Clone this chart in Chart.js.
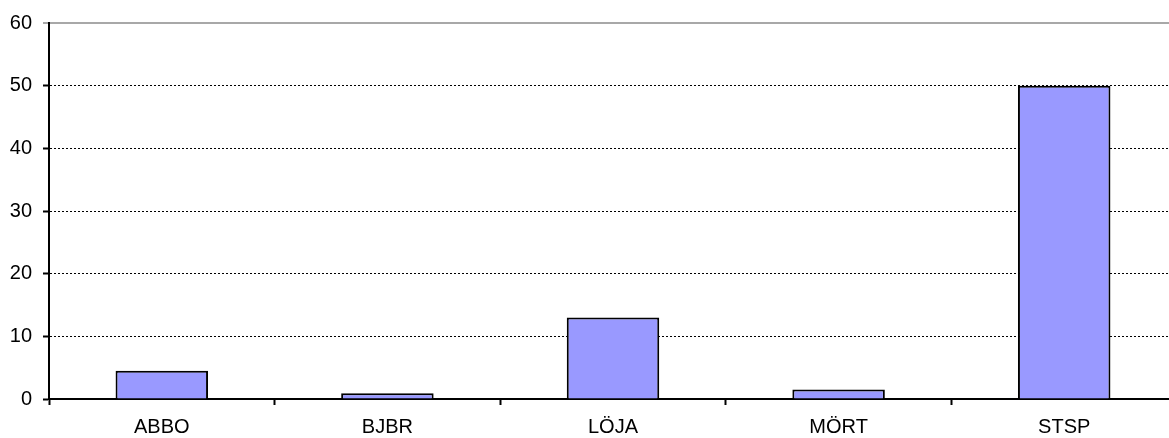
<!DOCTYPE html>
<html>
<head>
<meta charset="utf-8">
<script src="https://cdn.jsdelivr.net/npm/chart.js@4/dist/chart.umd.min.js"></script>
<style>
  html, body { margin: 0; padding: 0; background: #fff; overflow: hidden; }
  #wrap { width: 1180px; height: 438px; position: relative; }
</style>
</head>
<body>
<div id="wrap"><canvas id="c"></canvas></div>
<script>
// Catch per species code
const categories = ['ABBO', 'BJBR', 'LÖJA', 'MÖRT', 'STSP'];
const values = [4.5, 0.9, 13, 1.5, 50];
const yTicks = [0, 10, 20, 30, 40, 50, 60];

const yMax = yTicks[yTicks.length - 1];
const isTop = ctx => ctx.tick && ctx.tick.value === yMax;

Chart.defaults.font.family = "'Liberation Sans', Arial, sans-serif";
Chart.defaults.color = '#000';

new Chart(document.getElementById('c'), {
  type: 'bar',
  data: {
    labels: categories,
    datasets: [{
      data: values,
      backgroundColor: '#9999FF',
      borderColor: '#000',
      borderWidth: 2,
      barPercentage: 0.41,
      categoryPercentage: 1
    }]
  },
  options: {
    responsive: true,
    maintainAspectRatio: false,
    animation: false,
    layout: { padding: { top: 23, right: 3, left: 0, bottom: 0 } },
    plugins: { legend: { display: false }, tooltip: { enabled: false } },
    scales: {
      x: {
        grid: {
          drawOnChartArea: false,
          drawTicks: true,
          tickLength: 6,
          tickColor: '#000',
          tickWidth: 2
        },
        border: { display: true, color: '#000', width: 2 },
        ticks: { font: { size: 20 }, padding: 10, maxRotation: 0 },
        afterFit: s => { s.height = 39; }
      },
      y: {
        min: yTicks[0],
        max: yMax,
        afterBuildTicks: s => { s.ticks = yTicks.map(v => ({ value: v })); },
        grid: {
          color: ctx => isTop(ctx) ? '#a8a8a8' : '#000',
          lineWidth: ctx => isTop(ctx) ? 2 : 1,
          tickColor: ctx => isTop(ctx) ? '#a8a8a8' : '#000',
          tickLength: 6,
          tickWidth: 2
        },
        border: {
          display: true,
          color: '#000',
          width: 2,
          dash: ctx => (ctx.tick && ctx.tick.value !== yMax) ? [2, 2] : []
        },
        ticks: { font: { size: 20 }, padding: 11 },
        afterFit: s => { s.width = 49; }
      }
    }
  }
});
</script>
</body>
</html>
